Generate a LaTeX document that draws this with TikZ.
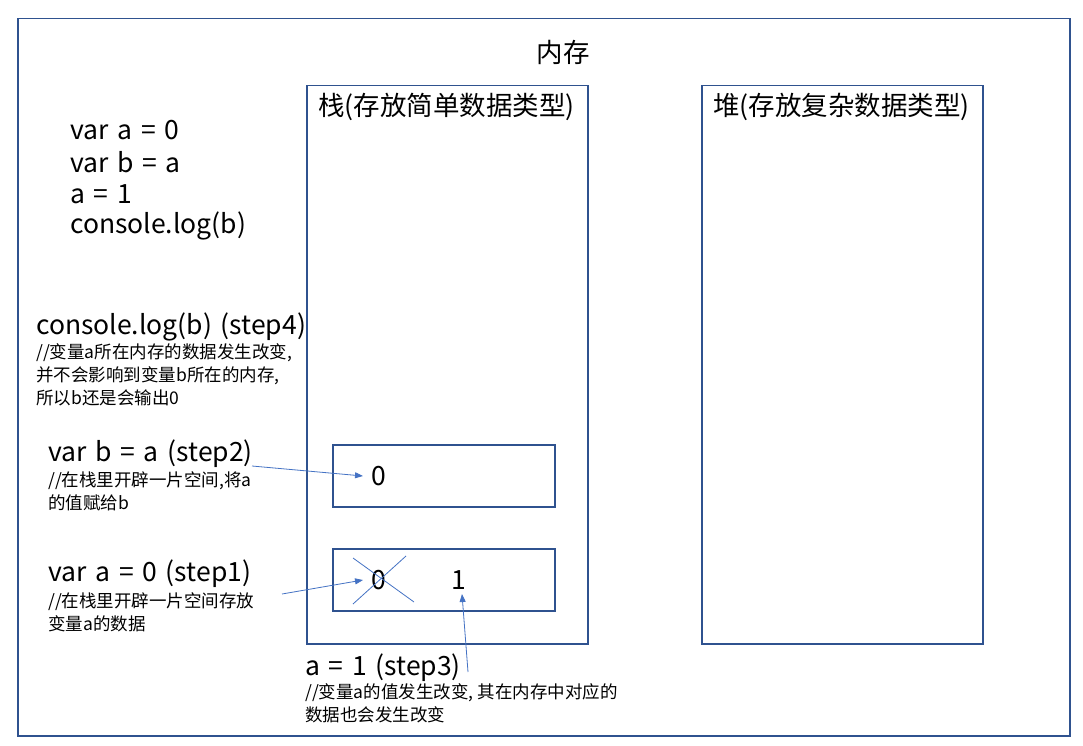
\documentclass[tikz,border=0pt]{standalone}
\usepackage{fontspec}
\setmainfont{Noto Sans CJK SC}
\usetikzlibrary{arrows.meta}
\definecolor{boxblue}{HTML}{2F528F}
\definecolor{arrblue}{HTML}{4472C4}
\newcommand{\bigfont}{\fontsize{26.5}{30}\selectfont\spaceskip=0.33em plus 0.1em}
\begin{document}
\begin{tikzpicture}[x=1pt,y=-1pt,
  frame/.style={draw=boxblue,line width=1.5pt},
  big/.style={anchor=west,inner sep=0pt,font=\bigfont},
  small/.style={anchor=north west,inner sep=0pt,align=left,font=\fontsize{17.5}{23}\selectfont},
  conn/.style={draw=arrblue,line width=0.8pt,-{Triangle[length=8pt,width=6pt]}},
  cross/.style={draw=arrblue,line width=0.8pt}]
\useasboundingbox (0,0) rectangle (1083,746);
\fill[white] (0,0) rectangle (1083,746);
\node[frame,minimum width=1052pt,minimum height=717pt,anchor=north west,inner sep=0pt] (mem) at (17,18) {};
\node[inner sep=0pt,font=\bigfont] (memt) at (563,52) {内存};
\node[frame,minimum width=281pt,minimum height=558pt,anchor=north west,inner sep=0pt] (stack) at (306,85) {};
\node[frame,minimum width=281pt,minimum height=558pt,anchor=north west,inner sep=0pt] (heap) at (701,85) {};
\node[big] (stackt) at (318,107) {栈(存放简单数据类型)};
\node[big] (heapt) at (713,107) {堆(存放复杂数据类型)};
\node[big] (c1) at (70,130) {var a = 0};
\node[big] (c2) at (70,162) {var b = a};
\node[big] (c3) at (70,194) {a = 1};
\node[big] (c4) at (70,226) {console.log(b)};
\node[big] (s4) at (36,327) {console.log(b)\ (step4)};
\node[small] (s4c) at (36,343) {//变量a所在内存的数据发生改变,\\并不会影响到变量b所在的内存,\\所以b还是会输出0};
\node[big] (s2) at (48,454) {var b = a\ (step2)};
\node[small] (s2c) at (48,471) {//在栈里开辟一片空间,将a\\的值赋给b};
\node[big] (s1) at (48,574) {var a = 0\ (step1)};
\node[small] (s1c) at (48,592) {//在栈里开辟一片空间存放\\变量a的数据};
\node[big] (s3) at (305,668) {a = 1\ (step3)};
\node[small] (s3c) at (305,683) {//变量a的值发生改变, 其在内存中对应的\\数据也会发生改变};
\node[frame,minimum width=222pt,minimum height=62pt,anchor=north west,inner sep=0pt] (bb) at (332,444) {};
\node[frame,minimum width=222pt,minimum height=62pt,anchor=north west,inner sep=0pt] (ba) at (332,548) {};
\node[inner sep=0pt,font=\bigfont] (b0) at (379,476) {0};
\node[inner sep=0pt,font=\bigfont] (a0) at (379,580) {0};
\node[inner sep=0pt,font=\bigfont] (a1) at (459,580) {1};
\coordinate (x1) at (353,558); \coordinate (x2) at (414,602);
\coordinate (x3) at (406,556); \coordinate (x4) at (353,604);
\draw[cross] (x1) -- (x2);
\draw[cross] (x3) -- (x4);
\coordinate (p2) at (252,466); \coordinate (q2) at (363,476);
\coordinate (p1) at (282,594); \coordinate (q1) at (363,580);
\coordinate (p3) at (468,672); \coordinate (q3) at (462,594);
\draw[conn] (p2) -- (q2);
\draw[conn] (p1) -- (q1);
\draw[conn] (p3) -- (q3);
\end{tikzpicture}
\end{document}
